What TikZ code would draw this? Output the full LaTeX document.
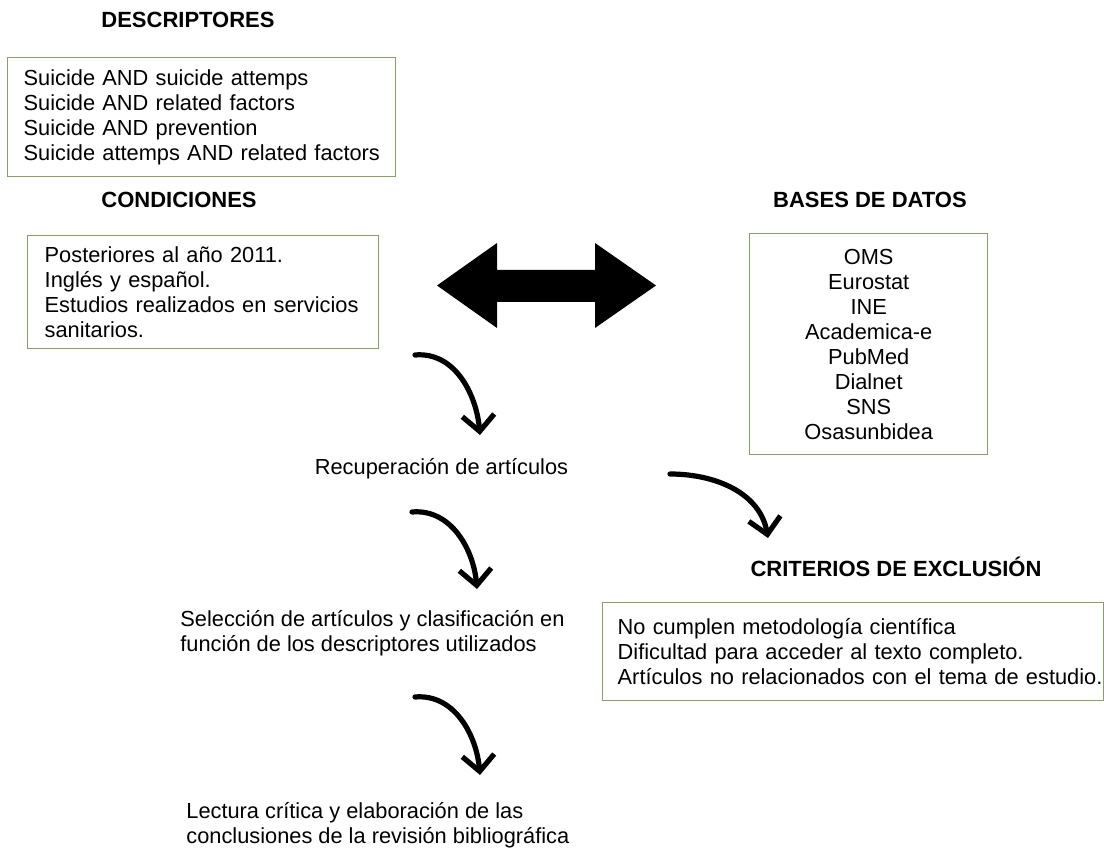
\documentclass[tikz,border=0pt]{standalone}
\usepackage{fontspec}
\setmainfont{Liberation Sans}
\usetikzlibrary{arrows.meta}
\definecolor{verdecaja}{RGB}{135,160,105}
\tikzset{caja/.style={draw=verdecaja, line width=0.7pt, fill=white, inner xsep=#1, inner ysep=0pt, anchor=north west, font=\fontsize{10.9}{12.5}\selectfont},
%default inner xsep will be 8pt.
caja/.default={8pt},
titulo/.style={font=\fontsize{11}{12.5}\selectfont\bfseries, inner sep=0pt},
texto/.style={font=\fontsize{10.9}{12.5}\selectfont, align=left, inner sep=0pt},
flecha/.style={line width=2.6pt, line cap=round, line join=round, -{Straight Barb[length=8pt,width=16pt]}}}

\begin{document}
\begin{tikzpicture}[x=0.5pt, y=0.5pt]

\useasboundingbox (0,0) rectangle (1104,-849);

\node[titulo] (descriptores) at (188,-20) {DESCRIPTORES};
\node[titulo] (condiciones) at (179,-200) {CONDICIONES};
\node[titulo] (bases) at (870,-200) {BASES DE DATOS};
\node[titulo] (criterios) at (896,-567) {CRITERIOS DE EXCLUSIÓN};

\node[caja, text width=178pt, minimum height=59.5pt, align=left] (cajadesc) at (7,-57)
    {Suicide AND suicide attemps\\Suicide AND related factors\\Suicide AND prevention\\\mbox{Suicide attemps AND related factors}};
\node[caja=8.5pt, text width=158.5pt, minimum height=56.5pt, align=left] (cajacond) at (27,-235)
    {Posteriores al año 2011.\\Inglés y español.\\\mbox{Estudios realizados en servicios}\\sanitarios.};
\node[caja=0pt, text width=119pt, minimum height=110.5pt, align=center] (cajabases) at (749,-233)
    {OMS\\Eurostat\\INE\\Academica-e\\PubMed\\Dialnet\\SNS\\Osasunbidea};
\node[caja=7.5pt, text width=235.5pt, minimum height=49pt, align=left] (cajacrit) at (602,-602)
    {No cumplen metodología científica\\Dificultad para acceder al texto completo.\\\mbox{Artículos no relacionados con el tema de estudio.}};

\node[texto] (recuperacion) at (441.5,-469) {Recuperación de artículos};
\node[texto, anchor=west] (seleccion) at (180,-633.5) {Selección de artículos y clasificación en\\función de los descriptores utilizados};
\node[texto, anchor=west] (lectura) at (186,-825.5) {Lectura crítica y elaboración de las\\conclusiones de la revisión bibliográfica};

\fill (437,-285.5) -- (497,-243) -- (497,-270) -- (595,-270) -- (595,-243) -- (656,-285.5)
    -- (595,-328) -- (595,-302) -- (497,-302) -- (497,-328) -- cycle;

\coordinate (ini1) at (415,-355);
\coordinate (fin1) at (480,-435);
\coordinate (ini2) at (412,-512);
\coordinate (fin2) at (477,-589);
\coordinate (ini3) at (415,-697);
\coordinate (fin3) at (480,-775);
\coordinate (ini4) at (670,-474);
\coordinate (fin4) at (768,-538);

\foreach \i in {1,2,3}
    \draw[flecha] (ini\i) to[out=5,in=95] (fin\i);
\draw[flecha] (ini4) to[out=0,in=100] (fin4);

\end{tikzpicture}
\end{document}
